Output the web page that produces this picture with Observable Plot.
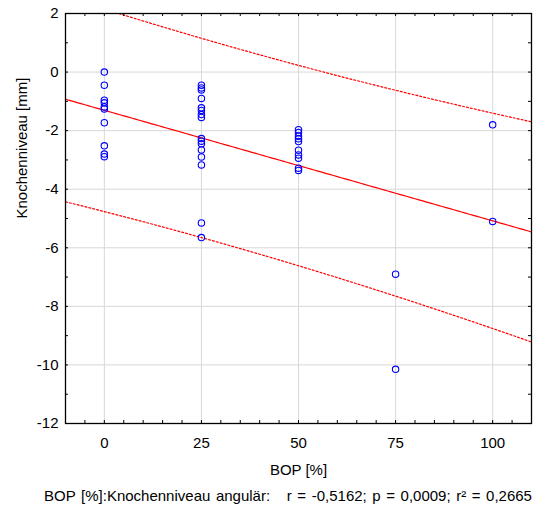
<!DOCTYPE html>
<html><head><meta charset="utf-8">
<script src="https://cdn.jsdelivr.net/npm/d3@7"></script>
<script src="https://cdn.jsdelivr.net/npm/@observablehq/plot@0.6"></script>
<style>
html,body{margin:0;padding:0;background:#fff;}
#chart svg{display:block;white-space:pre;}
</style></head><body><div id="chart"></div>
<script>
const FONT = '"Liberation Sans Narrow","Arial Narrow","Liberation Sans",Arial,sans-serif';

// Knochenniveau [mm] readings, grouped by BOP [%] level
const bopLevels = [0, 25, 50, 75, 100];
const knochenBop0 = [0, -0.45, -0.96, -1.05, -1.19, -1.26, -1.73, -2.52, -2.80, -2.89];
const knochenBop25 = [-0.45, -0.54, -0.61, -0.90, -1.22, -1.31, -1.45, -1.55, -2.27, -2.36, -2.45, -2.66, -2.90, -3.17, -5.15, -5.65];
const knochenBop50 = [-1.97, -2.06, -2.19, -2.28, -2.37, -2.67, -2.83, -2.94, -3.28, -3.36];
const knochenBop75 = [-6.90, -10.15];
const knochenBop100 = [-1.80, -5.10];

const xTicks = [0, 25, 50, 75, 100];
const yTicks = [2, 0, -2, -4, -6, -8, -10, -12];
const xMinorTicks = [-5, 0, 5, 10, 15, 20, 25, 30, 35, 40, 45, 50, 55, 60, 65, 70, 75, 80, 85, 90, 95, 100, 105];
const yMinorTicks = [1, 0, -1, -2, -3, -4, -5, -6, -7, -8, -9, -10, -11];

const xLabel = "BOP [%]";
const yLabel = "Knochenniveau [mm]";
const caption = "BOP [%]:Knochenniveau angulär:   r = -0,5162; p = 0,0009; r² = 0,2665";
const tCrit = 2.024; // Student t, 95 %, df = n - 2 = 38

const groups = [knochenBop0, knochenBop25, knochenBop50, knochenBop75, knochenBop100];
const points = groups.flatMap((ys, i) => ys.map(y => ({x: bopLevels[i], y})));

// least-squares fit and 95 % prediction band computed from the points
const n = points.length;
const mx = d3.mean(points, d => d.x), my = d3.mean(points, d => d.y);
const sxx = d3.sum(points, d => (d.x - mx) ** 2);
const sxy = d3.sum(points, d => (d.x - mx) * (d.y - my));
const slope = sxy / sxx, icpt = my - slope * mx;
const sse = d3.sum(points, d => (d.y - icpt - slope * d.x) ** 2);
const s = Math.sqrt(sse / (n - 2));
const xDomain = [-10, 110];
const xs = d3.ticks(xDomain[0], xDomain[1], 120);
const fit = xs.map(x => ({x, y: icpt + slope * x}));
const half = x => tCrit * s * Math.sqrt(1 + 1 / n + (x - mx) ** 2 / sxx);
const upper = xs.map(x => ({x, y: icpt + slope * x + half(x)}));
const lower = xs.map(x => ({x, y: icpt + slope * x - half(x)}));

const W = 535, H = 508, mL = 65, mR = 4, mT = 13, mB = 85;
const plotW = W - mL - mR, plotH = H - mT - mB;
const fmt = d => String(d);

const chart = Plot.plot({
  width: W, height: H,
  marginLeft: mL, marginRight: mR, marginTop: mT, marginBottom: mB,
  style: {fontFamily: FONT, fontSize: "15px", color: "#000", background: "#fff"},
  x: {domain: xDomain},
  y: {domain: [-12, 2]},
  marks: [
    Plot.ruleX(xTicks, {x: d => d, stroke: "#d8d8d8", strokeWidth: 1}),
    Plot.ruleY(yTicks, {y: d => d, stroke: "#d8d8d8", strokeWidth: 1}),
    Plot.line(upper, {x: "x", y: "y", stroke: "#ff0000", strokeWidth: 1.2, strokeDasharray: "2,2", clip: true}),
    Plot.line(lower, {x: "x", y: "y", stroke: "#ff0000", strokeWidth: 1.2, strokeDasharray: "2,2", clip: true}),
    Plot.line(fit, {x: "x", y: "y", stroke: "#ff0000", strokeWidth: 1.2, clip: true}),
    Plot.dot(points, {x: "x", y: "y", r: 3.2, stroke: "#0000ff", strokeWidth: 1.1, fill: "none"}),
    Plot.frame({stroke: "#000", strokeWidth: 1.3}),
    Plot.tickX(xMinorTicks, {x: d => d, insetTop: plotH - 3, stroke: "#000"}),
    Plot.tickX(xMinorTicks, {x: d => d, insetBottom: plotH - 3, stroke: "#000"}),
    Plot.tickY(yMinorTicks, {y: d => d, insetRight: plotW - 3, stroke: "#000"}),
    Plot.tickY(yMinorTicks, {y: d => d, insetLeft: plotW - 3, stroke: "#000"}),
    Plot.axisX(xTicks, {tickSize: 0, tickPadding: 14, label: null, fontSize: 15, tickFormat: fmt}),
    Plot.axisY(yTicks, {tickSize: 0, tickPadding: 7, label: null, fontSize: 15, tickFormat: fmt}),
    Plot.text([xLabel], {frameAnchor: "bottom", dy: 51, fontSize: 15}),
    Plot.text([yLabel], {frameAnchor: "left", rotate: -90, dx: -43, fontSize: 15}),
    Plot.text([caption], {frameAnchor: "bottom", dx: -10.5, dy: 77, fontSize: 15})
  ]
});
d3.select(chart).selectAll("text").filter(function() { return this.textContent === caption; })
  .attr("word-spacing", "1.4px");
document.getElementById("chart").appendChild(chart);
</script></body></html>
